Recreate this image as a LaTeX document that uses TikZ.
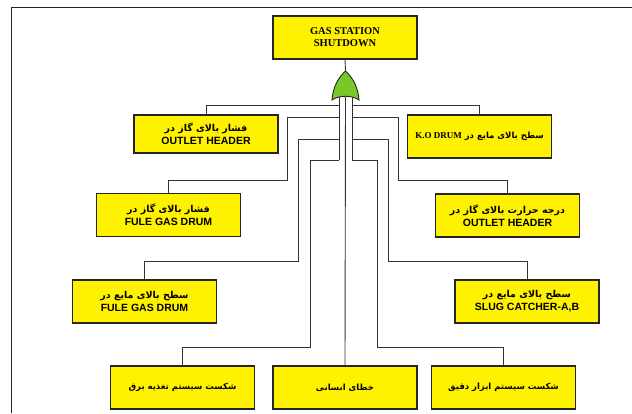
\documentclass[tikz,border=0pt]{standalone}
\usepackage{fontspec}
\setmainfont{Liberation Serif}
\newfontfamily\arialf{Liberation Sans}
\newfontfamily\faf[Script=Arabic]{DejaVu Sans}
\TeXXeTstate=1
\newcommand\faT[1]{{\faf\bfseries\fontsize{9.5}{11}\selectfont\beginR #1\endR}}
\newcommand\faB[1]{{\faf\bfseries\fontsize{8.5}{10}\selectfont\beginR #1\endR}}
\newcommand\enT[1]{{\arialf\bfseries\fontsize{10.5}{12}\selectfont #1}}
\definecolor{gatecol}{RGB}{122,200,40}
\begin{document}
\begin{tikzpicture}[x=1pt,y=-1pt,
  box/.style={draw=black!85, line width=1.1pt, fill=yellow, minimum width=144pt, minimum height=43pt, inner sep=1pt, align=center},
  wire/.style={draw=black!80, line width=0.9pt}]
\useasboundingbox (0,0) rectangle (632,413);
% frame
\draw[line width=1pt, black!85] (11,413) -- (11,7) -- (632,7);
% boxes
\node[box, font=\rmfamily\bfseries\fontsize{10.5}{12}\selectfont] (top) at (345,37.5) {GAS STATION\\SHUTDOWN};
\node[box, minimum height=38pt] (ohl) at (206,134) {\faT{فشار بالای گاز در}\\[1pt]\enT{OUTLET HEADER}};
\node[box] (ko) at (479.5,136.5) {\faB{سطح بالای مایع در \beginL{\rmfamily\bfseries\fontsize{9}{10}\selectfont K.O DRUM}\endL}};
\node[box] (fgd1) at (168.5,215) {\faT{فشار بالای گاز در}\\[1pt]\enT{FULE GAS DRUM}};
\node[box] (ohr) at (507.5,215.5) {\faT{درجه حرارت بالای گاز در}\\[1pt]\enT{OUTLET HEADER}};
\node[box] (fgd2) at (144.5,301.5) {\faT{سطح بالای مایع در}\\[1pt]\enT{FULE GAS DRUM}};
\node[box] (slug) at (527,301.5) {\faT{سطح بالای مایع در}\\[1pt]\enT{SLUG CATCHER-A,B}};
\node[box] (b1) at (182.5,387.5) {\faB{شکست سیستم تغذیه برق}};
\node[box] (b2) at (345,387.5) {\faB{خطای انسانی}};
\node[box] (b3) at (503.5,387.5) {\faB{شکست سیستم ابزار دقیق}};
% coordinates
\coordinate (tip) at (345.5,71);
\coordinate (gL) at (339,97);
\coordinate (gC) at (345.5,97);
\coordinate (gR) at (352,97);
\coordinate (jL1) at (339,105);
\coordinate (jL2) at (339,117);
\coordinate (jL3) at (339,139);
\coordinate (jL4) at (339,160);
\coordinate (jR1) at (352,105);
\coordinate (jR2) at (352,117);
\coordinate (jR3) at (352,139);
\coordinate (jR4) at (352,160);
\coordinate (k2) at (287,180);
\coordinate (k3) at (298,261);
\coordinate (k4) at (310,347);
\coordinate (k6) at (398,180);
\coordinate (k7) at (388,261);
\coordinate (k8) at (377,347);
% wires
\draw[wire] (top.south) -- (tip);
\draw[wire] (gL) -- (jL4);
\draw[wire] (gR) -- (jR4);
\draw[wire] (gC) -- (b2.north);
\draw[wire] (ohl.north) |- (jL1);
\draw[wire] (fgd1.north) |- (k2) |- (jL2);
\draw[wire] (fgd2.north) |- (k3) |- (jL3);
\draw[wire] (b1.north) |- (k4) |- (jL4);
\draw[wire] (ko.north) |- (jR1);
\draw[wire] (ohr.north) |- (k6) |- (jR2);
\draw[wire] (slug.north) |- (k7) |- (jR3);
\draw[wire] (b3.north) |- (k8) |- (jR4);
% OR gate
\draw[fill=gatecol, draw=black!85, line width=0.9pt]
  (332,100) .. controls (333,86) and (339,77) .. (tip)
  .. controls (352,77) and (358,86) .. (359,100)
  .. controls (352,95) and (339,95) .. (332,100) -- cycle;
\end{tikzpicture}
\end{document}
